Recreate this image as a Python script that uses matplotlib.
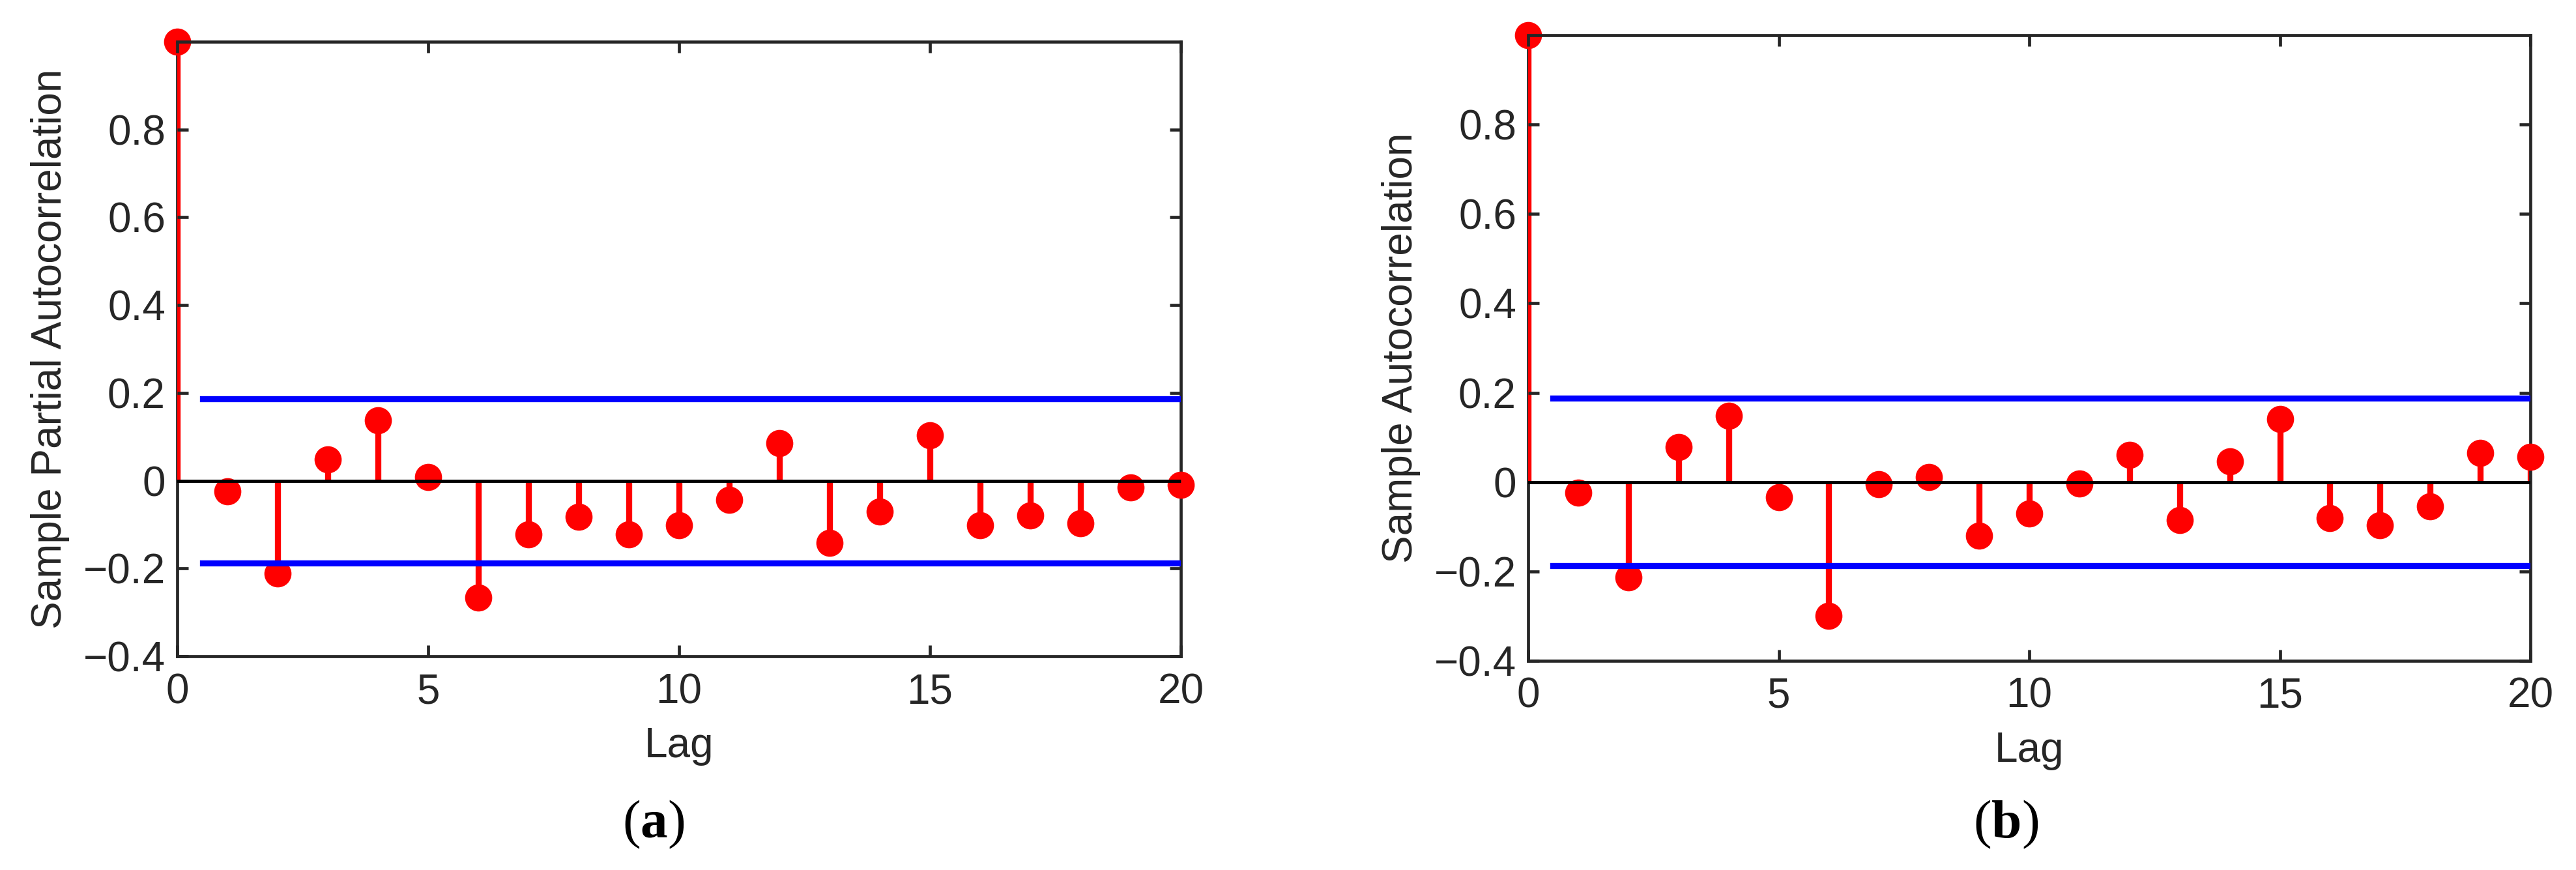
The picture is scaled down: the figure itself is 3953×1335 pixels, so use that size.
import matplotlib.pyplot as plt
import numpy as np

plt.rcParams['font.family'] = 'Liberation Sans'
plt.rcParams['font.size'] = 46
plt.rcParams['mathtext.fontset'] = 'custom'
plt.rcParams['mathtext.rm'] = 'Liberation Serif'
plt.rcParams['mathtext.bf'] = 'Liberation Serif:bold'

TXT = '#262626'

# 数据
lags = np.arange(0, 21)
pacf = [1.0, -0.025, -0.212, 0.048, 0.137, 0.009, -0.267, -0.122, -0.082, -0.122, -0.102,
        -0.044, 0.086, -0.141, -0.071, 0.104, -0.101, -0.079, -0.097, -0.015, -0.009]
acf = [1.0, -0.024, -0.213, 0.079, 0.148, -0.034, -0.300, -0.005, 0.011, -0.120, -0.070,
       -0.004, 0.061, -0.085, 0.046, 0.141, -0.080, -0.096, -0.055, 0.065, 0.056]
bound = 0.187
bound_x = [0.5, 20]

panels = [
    ([272, 64, 1812, 1007], pacf, 'Sample Partial Autocorrelation', 'a', 1003),
    ([2345, 54, 3883, 1014], acf, 'Sample Autocorrelation', 'b', 3078),
]

W, H = 3953, 1335
fig = plt.figure(figsize=(W / 100, H / 100), dpi=100)

for (x0, y0, x1, y1), vals, ylab, tag, tag_x in panels:
    ax = fig.add_axes([x0 / W, (H - y1) / H, (x1 - x0) / W, (y1 - y0) / H])

    # 茎线 + 圆点
    ax.vlines(lags, 0, vals, color='#ff0000', linewidth=6.7, zorder=1)
    ax.plot(lags, vals, 'o', color='#ff0000', markersize=30, markeredgewidth=0,
            clip_on=False, zorder=1.5)
    # 零线和置信界
    ax.axhline(0, color='black', linewidth=3.5, zorder=2)
    ax.plot(bound_x, [bound, bound], color='#0000ff', linewidth=6.7, zorder=2)
    ax.plot(bound_x, [-bound, -bound], color='#0000ff', linewidth=6.7, zorder=2)

    ax.set_xlim(0, 20)
    ax.set_ylim(-0.4, 1.0)
    ax.set_xticks([0, 5, 10, 15, 20])
    ax.set_yticks([-0.4, -0.2, 0, 0.2, 0.4, 0.6, 0.8])
    ax.set_yticklabels(['\u22120.4', '\u22120.2', '0', '0.2', '0.4', '0.6', '0.8'])

    z = {'left': 0.5, 'top': 4, 'right': 1.2, 'bottom': 2.5}
    for side, sp in ax.spines.items():
        sp.set_linewidth(3.4)
        sp.set_color(TXT)
        sp.set_zorder(z[side])

    ax.tick_params(axis='both', direction='in', length=12, width=3.4, color=TXT,
                   labelcolor=TXT, top=True, right=True)
    ax.tick_params(axis='y', pad=13)
    ax.tick_params(axis='x', pad=18)

    ax.set_ylabel(ylab, color=TXT)
    ax.yaxis.set_label_coords(-0.107, 0.5)
    ax.set_xlabel('Lag', color=TXT)
    ax.xaxis.set_label_coords(0.5, -108 / (y1 - y0))

    fig.text(tag_x / W, 50 / H, '($\\mathbf{' + tag + '}$)', family='Liberation Serif',
             fontsize=60, color='black', ha='center', va='baseline')

fig.savefig('out.png', dpi=100)
